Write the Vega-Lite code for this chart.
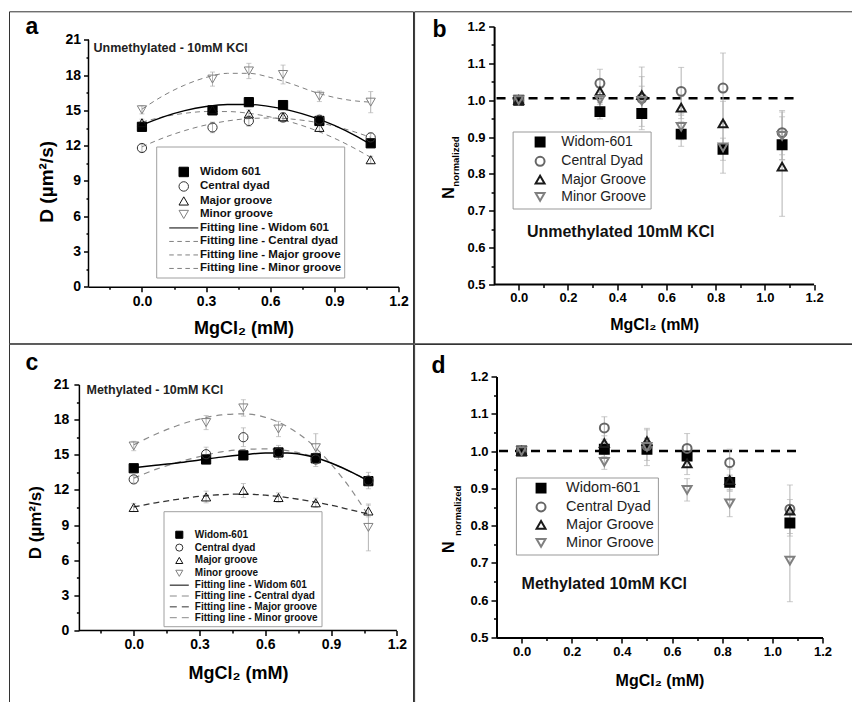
{
  "$schema": "https://vega.github.io/schema/vega-lite/v6.json",
  "background": "white",
  "padding": {"left": 8.5, "top": 10.5, "right": 0, "bottom": 0},
  "config": {
    "view": {"stroke": null},
    "font": "Liberation Sans",
    "axis": {"grid": false, "labelFont": "Liberation Sans", "titleFont": "Liberation Sans", "labelFontWeight": "bold", "titleFontWeight": "bold", "labelColor": "black", "titleColor": "black", "domainColor": "black", "tickColor": "black", "labelOverlap": false, "labelFlush": false, "labelBound": false},
    "legend": {"labelFont": "Liberation Sans", "titleFont": "Liberation Sans", "labelLimit": 400, "symbolOpacity": 1}
  },
  "datasets": {
    "ptsA": [
      {"s": "Widom 601", "x": 0, "y": 13.6, "e": 0.3},
      {"s": "Widom 601", "x": 0.33, "y": 15.0, "e": 0.3},
      {"s": "Widom 601", "x": 0.5, "y": 15.7, "e": 0.35},
      {"s": "Widom 601", "x": 0.66, "y": 15.45, "e": 0.35},
      {"s": "Widom 601", "x": 0.83, "y": 14.1, "e": 0.3},
      {"s": "Widom 601", "x": 1.07, "y": 12.2, "e": 0.3},
      {"s": "Central dyad", "x": 0, "y": 11.8, "e": 0.3},
      {"s": "Central dyad", "x": 0.33, "y": 13.55, "e": 0.45},
      {"s": "Central dyad", "x": 0.5, "y": 14.1, "e": 0.45},
      {"s": "Central dyad", "x": 0.66, "y": 14.4, "e": 0.4},
      {"s": "Central dyad", "x": 0.83, "y": 14.2, "e": 0.4},
      {"s": "Central dyad", "x": 1.07, "y": 12.7, "e": 0.4},
      {"s": "Major groove", "x": 0, "y": 13.95, "e": 0.3},
      {"s": "Major groove", "x": 0.33, "y": 15.05, "e": 0.3},
      {"s": "Major groove", "x": 0.5, "y": 14.7, "e": 0.35},
      {"s": "Major groove", "x": 0.66, "y": 14.45, "e": 0.35},
      {"s": "Major groove", "x": 0.83, "y": 13.55, "e": 0.35},
      {"s": "Major groove", "x": 1.07, "y": 10.8, "e": 0.3},
      {"s": "Minor groove", "x": 0, "y": 15.05, "e": 0.35},
      {"s": "Minor groove", "x": 0.33, "y": 17.66, "e": 0.6},
      {"s": "Minor groove", "x": 0.5, "y": 18.35, "e": 0.65},
      {"s": "Minor groove", "x": 0.66, "y": 18.05, "e": 0.8},
      {"s": "Minor groove", "x": 0.83, "y": 16.2, "e": 0.45},
      {"s": "Minor groove", "x": 1.07, "y": 15.7, "e": 0.9}
    ],
    "fitA": [
      {"s": "Widom 601", "x": 0, "y": 13.75}, {"s": "Widom 601", "x": 0.1, "y": 14.45}, {"s": "Widom 601", "x": 0.2, "y": 14.98}, {"s": "Widom 601", "x": 0.3, "y": 15.33}, {"s": "Widom 601", "x": 0.4, "y": 15.5}, {"s": "Widom 601", "x": 0.5, "y": 15.5}, {"s": "Widom 601", "x": 0.6, "y": 15.32}, {"s": "Widom 601", "x": 0.7, "y": 14.96}, {"s": "Widom 601", "x": 0.8, "y": 14.43}, {"s": "Widom 601", "x": 0.9, "y": 13.72}, {"s": "Widom 601", "x": 1.0, "y": 12.83}, {"s": "Widom 601", "x": 1.07, "y": 12.1},
      {"s": "Central dyad", "x": 0, "y": 11.9}, {"s": "Central dyad", "x": 0.1, "y": 12.66}, {"s": "Central dyad", "x": 0.2, "y": 13.28}, {"s": "Central dyad", "x": 0.3, "y": 13.76}, {"s": "Central dyad", "x": 0.4, "y": 14.1}, {"s": "Central dyad", "x": 0.5, "y": 14.3}, {"s": "Central dyad", "x": 0.6, "y": 14.35}, {"s": "Central dyad", "x": 0.7, "y": 14.26}, {"s": "Central dyad", "x": 0.8, "y": 14.03}, {"s": "Central dyad", "x": 0.9, "y": 13.66}, {"s": "Central dyad", "x": 1.0, "y": 13.14}, {"s": "Central dyad", "x": 1.07, "y": 12.7},
      {"s": "Major groove", "x": 0, "y": 14.0}, {"s": "Major groove", "x": 0.1, "y": 14.45}, {"s": "Major groove", "x": 0.2, "y": 14.75}, {"s": "Major groove", "x": 0.3, "y": 14.9}, {"s": "Major groove", "x": 0.4, "y": 14.9}, {"s": "Major groove", "x": 0.5, "y": 14.75}, {"s": "Major groove", "x": 0.6, "y": 14.44}, {"s": "Major groove", "x": 0.7, "y": 13.99}, {"s": "Major groove", "x": 0.8, "y": 13.39}, {"s": "Major groove", "x": 0.9, "y": 12.63}, {"s": "Major groove", "x": 1.0, "y": 11.72}, {"s": "Major groove", "x": 1.07, "y": 11.0},
      {"s": "Minor groove", "x": 0, "y": 15.1}, {"s": "Minor groove", "x": 0.1, "y": 16.25}, {"s": "Minor groove", "x": 0.2, "y": 17.15}, {"s": "Minor groove", "x": 0.3, "y": 17.8}, {"s": "Minor groove", "x": 0.4, "y": 18.15}, {"s": "Minor groove", "x": 0.5, "y": 18.15}, {"s": "Minor groove", "x": 0.6, "y": 17.8}, {"s": "Minor groove", "x": 0.7, "y": 17.25}, {"s": "Minor groove", "x": 0.8, "y": 16.6}, {"s": "Minor groove", "x": 0.9, "y": 16.1}, {"s": "Minor groove", "x": 1.0, "y": 15.8}, {"s": "Minor groove", "x": 1.07, "y": 15.7}
    ],
    "ptsB": [
      {"s": "Widom-601", "x": 0, "y": 1.0, "e": 0.01},
      {"s": "Widom-601", "x": 0.33, "y": 0.969, "e": 0.02},
      {"s": "Widom-601", "x": 0.5, "y": 0.964, "e": 0.035},
      {"s": "Widom-601", "x": 0.66, "y": 0.908, "e": 0.033},
      {"s": "Widom-601", "x": 0.83, "y": 0.867, "e": 0.03},
      {"s": "Widom-601", "x": 1.07, "y": 0.879, "e": 0.04},
      {"s": "Central Dyad", "x": 0, "y": 1.0, "e": 0.01},
      {"s": "Central Dyad", "x": 0.33, "y": 1.046, "e": 0.038},
      {"s": "Central Dyad", "x": 0.5, "y": 1.005, "e": 0.085},
      {"s": "Central Dyad", "x": 0.66, "y": 1.024, "e": 0.065},
      {"s": "Central Dyad", "x": 0.83, "y": 1.033, "e": 0.095},
      {"s": "Central Dyad", "x": 1.07, "y": 0.912, "e": 0.06},
      {"s": "Major Groove", "x": 0, "y": 1.0, "e": 0.01},
      {"s": "Major Groove", "x": 0.33, "y": 1.024, "e": 0.03},
      {"s": "Major Groove", "x": 0.5, "y": 1.014, "e": 0.05},
      {"s": "Major Groove", "x": 0.66, "y": 0.98, "e": 0.03},
      {"s": "Major Groove", "x": 0.83, "y": 0.937, "e": 0.06},
      {"s": "Major Groove", "x": 1.07, "y": 0.82, "e": 0.135},
      {"s": "Minor Groove", "x": 0, "y": 1.0, "e": 0.01},
      {"s": "Minor Groove", "x": 0.33, "y": 1.001, "e": 0.02},
      {"s": "Minor Groove", "x": 0.5, "y": 0.998, "e": 0.04},
      {"s": "Minor Groove", "x": 0.66, "y": 0.928, "e": 0.035},
      {"s": "Minor Groove", "x": 0.83, "y": 0.872, "e": 0.07},
      {"s": "Minor Groove", "x": 1.07, "y": 0.903, "e": 0.065}
    ],
    "ptsC": [
      {"s": "Widom-601", "x": 0, "y": 13.85, "e": 0.3},
      {"s": "Widom-601", "x": 0.33, "y": 14.6, "e": 0.35},
      {"s": "Widom-601", "x": 0.5, "y": 14.95, "e": 0.35},
      {"s": "Widom-601", "x": 0.66, "y": 15.2, "e": 0.35},
      {"s": "Widom-601", "x": 0.83, "y": 14.7, "e": 0.35},
      {"s": "Widom-601", "x": 1.07, "y": 12.75, "e": 0.4},
      {"s": "Central dyad", "x": 0, "y": 12.9, "e": 0.3},
      {"s": "Central dyad", "x": 0.33, "y": 15.05, "e": 0.6},
      {"s": "Central dyad", "x": 0.5, "y": 16.5, "e": 0.8},
      {"s": "Central dyad", "x": 0.66, "y": 15.2, "e": 0.6},
      {"s": "Central dyad", "x": 0.83, "y": 14.6, "e": 0.6},
      {"s": "Central dyad", "x": 1.07, "y": 12.8, "e": 0.7},
      {"s": "Major groove", "x": 0, "y": 10.5, "e": 0.35},
      {"s": "Major groove", "x": 0.33, "y": 11.4, "e": 0.5},
      {"s": "Major groove", "x": 0.5, "y": 11.95, "e": 0.6},
      {"s": "Major groove", "x": 0.66, "y": 11.35, "e": 0.4},
      {"s": "Major groove", "x": 0.83, "y": 10.9, "e": 0.4},
      {"s": "Major groove", "x": 1.07, "y": 10.2, "e": 0.5},
      {"s": "Minor groove", "x": 0, "y": 15.75, "e": 0.4},
      {"s": "Minor groove", "x": 0.33, "y": 17.75, "e": 0.6},
      {"s": "Minor groove", "x": 0.5, "y": 19.0, "e": 0.7},
      {"s": "Minor groove", "x": 0.66, "y": 17.2, "e": 0.65},
      {"s": "Minor groove", "x": 0.83, "y": 15.6, "e": 1.2},
      {"s": "Minor groove", "x": 1.07, "y": 8.8, "e": 2.0}
    ],
    "fitC": [
      {"s": "Widom 601", "x": 0, "y": 13.9}, {"s": "Widom 601", "x": 0.1, "y": 14.1}, {"s": "Widom 601", "x": 0.2, "y": 14.3}, {"s": "Widom 601", "x": 0.3, "y": 14.55}, {"s": "Widom 601", "x": 0.4, "y": 14.8}, {"s": "Widom 601", "x": 0.5, "y": 15.0}, {"s": "Widom 601", "x": 0.6, "y": 15.15}, {"s": "Widom 601", "x": 0.7, "y": 15.15}, {"s": "Widom 601", "x": 0.8, "y": 14.9}, {"s": "Widom 601", "x": 0.9, "y": 14.3}, {"s": "Widom 601", "x": 1.0, "y": 13.45}, {"s": "Widom 601", "x": 1.07, "y": 12.75},
      {"s": "Central dyad", "x": 0, "y": 13.0}, {"s": "Central dyad", "x": 0.1, "y": 13.75}, {"s": "Central dyad", "x": 0.2, "y": 14.35}, {"s": "Central dyad", "x": 0.3, "y": 14.85}, {"s": "Central dyad", "x": 0.4, "y": 15.25}, {"s": "Central dyad", "x": 0.5, "y": 15.45}, {"s": "Central dyad", "x": 0.6, "y": 15.5}, {"s": "Central dyad", "x": 0.7, "y": 15.35}, {"s": "Central dyad", "x": 0.8, "y": 14.95}, {"s": "Central dyad", "x": 0.9, "y": 14.3}, {"s": "Central dyad", "x": 1.0, "y": 13.45}, {"s": "Central dyad", "x": 1.07, "y": 12.8},
      {"s": "Major groove", "x": 0, "y": 10.55}, {"s": "Major groove", "x": 0.1, "y": 10.9}, {"s": "Major groove", "x": 0.2, "y": 11.2}, {"s": "Major groove", "x": 0.3, "y": 11.45}, {"s": "Major groove", "x": 0.4, "y": 11.6}, {"s": "Major groove", "x": 0.5, "y": 11.65}, {"s": "Major groove", "x": 0.6, "y": 11.55}, {"s": "Major groove", "x": 0.7, "y": 11.35}, {"s": "Major groove", "x": 0.8, "y": 11.05}, {"s": "Major groove", "x": 0.9, "y": 10.7}, {"s": "Major groove", "x": 1.0, "y": 10.25}, {"s": "Major groove", "x": 1.07, "y": 9.95},
      {"s": "Minor groove", "x": 0, "y": 15.85}, {"s": "Minor groove", "x": 0.1, "y": 16.75}, {"s": "Minor groove", "x": 0.2, "y": 17.5}, {"s": "Minor groove", "x": 0.3, "y": 18.05}, {"s": "Minor groove", "x": 0.4, "y": 18.4}, {"s": "Minor groove", "x": 0.5, "y": 18.5}, {"s": "Minor groove", "x": 0.6, "y": 18.2}, {"s": "Minor groove", "x": 0.7, "y": 17.4}, {"s": "Minor groove", "x": 0.8, "y": 16.1}, {"s": "Minor groove", "x": 0.9, "y": 14.2}, {"s": "Minor groove", "x": 1.0, "y": 11.8}, {"s": "Minor groove", "x": 1.07, "y": 9.8}
    ],
    "ptsD": [
      {"s": "Widom-601", "x": 0, "y": 1.0, "e": 0.01},
      {"s": "Widom-601", "x": 0.33, "y": 1.005, "e": 0.02},
      {"s": "Widom-601", "x": 0.5, "y": 1.005, "e": 0.03},
      {"s": "Widom-601", "x": 0.66, "y": 0.987, "e": 0.03},
      {"s": "Widom-601", "x": 0.83, "y": 0.916, "e": 0.02},
      {"s": "Widom-601", "x": 1.07, "y": 0.807, "e": 0.035},
      {"s": "Central Dyad", "x": 0, "y": 1.0, "e": 0.01},
      {"s": "Central Dyad", "x": 0.33, "y": 1.062, "e": 0.03},
      {"s": "Central Dyad", "x": 0.5, "y": 1.014, "e": 0.02},
      {"s": "Central Dyad", "x": 0.66, "y": 1.007, "e": 0.04},
      {"s": "Central Dyad", "x": 0.83, "y": 0.969, "e": 0.036},
      {"s": "Central Dyad", "x": 1.07, "y": 0.844, "e": 0.065},
      {"s": "Major Groove", "x": 0, "y": 1.0, "e": 0.01},
      {"s": "Major Groove", "x": 0.33, "y": 1.021, "e": 0.02},
      {"s": "Major Groove", "x": 0.5, "y": 1.027, "e": 0.03},
      {"s": "Major Groove", "x": 0.66, "y": 0.967, "e": 0.03},
      {"s": "Major Groove", "x": 0.83, "y": 0.922, "e": 0.03},
      {"s": "Major Groove", "x": 1.07, "y": 0.84, "e": 0.03},
      {"s": "Minor Groove", "x": 0, "y": 1.0, "e": 0.01},
      {"s": "Minor Groove", "x": 0.33, "y": 0.971, "e": 0.02},
      {"s": "Minor Groove", "x": 0.5, "y": 1.011, "e": 0.05},
      {"s": "Minor Groove", "x": 0.66, "y": 0.896, "e": 0.03},
      {"s": "Minor Groove", "x": 0.83, "y": 0.86, "e": 0.036},
      {"s": "Minor Groove", "x": 1.07, "y": 0.706, "e": 0.11}
    ]
  },
  "spacing": -1,
  "resolve": {
    "scale": {"x": "independent", "y": "independent", "shape": "independent", "fill": "independent", "stroke": "independent"},
    "legend": {"shape": "independent", "fill": "independent", "stroke": "independent"}
  },
  "hconcat": [
    {
      "spacing": -1,
      "resolve": {
        "scale": {"x": "independent", "y": "independent", "shape": "independent", "fill": "independent", "stroke": "independent"},
        "legend": {"shape": "independent", "fill": "independent", "stroke": "independent"}
      },
      "vconcat": [
        {
          "width": 310, "height": 260.3,
          "layer": [
            {"data": {"values": [{}]}, "mark": {"type": "rect", "filled": false, "stroke": "#333333", "strokeWidth": 1},
              "encoding": {
                "x": {"datum": -0.6195, "type": "quantitative", "scale": {"domain": [-0.25, 1.2], "nice": false, "zero": false}, "axis": {"title": "MgCl₂ (mM)", "values": [-0.15, 0, 0.15, 0.3, 0.45, 0.6, 0.75, 0.9, 1.05, 1.2], "labelExpr": "round(datum.value*100) % 30 == 0 ? format(datum.value, '.1f') : ''", "tickSize": {"condition": {"test": "round(datum.value*100) % 30 != 0", "value": 2.5}, "value": 5}, "labelFontSize": 14, "labelPadding": 3, "domainWidth": 1.5, "tickWidth": 1.5, "titleFontSize": 18, "titleX": 155, "titleY": 47, "titleAlign": "center", "titleBaseline": "alphabetic"}},
                "x2": {"datum": 1.2702},
                "y": {"datum": 23.381, "type": "quantitative", "scale": {"domain": [0, 22.131], "nice": false, "zero": false}, "axis": {"title": "D (µm²/s)", "domain": false, "values": [0, 1.5, 3, 4.5, 6, 7.5, 9, 10.5, 12, 13.5, 15, 16.5, 18, 19.5, 21], "labelExpr": "datum.value % 3 == 0 ? format(datum.value, 'd') : ''", "tickSize": {"condition": {"test": "datum.value % 3 != 0", "value": 2.5}, "value": 5}, "labelFontSize": 14, "labelPadding": 3, "tickWidth": 1.5, "titleFontSize": 19, "titleX": -42.2, "titleY": 154.8, "titleAngle": 270, "titleAlign": "center", "titleBaseline": "middle"}},
                "y2": {"datum": -4.846}}},
            {"data": {"values": [{}]}, "mark": {"type": "rule", "color": "black", "strokeWidth": 1.5},
              "encoding": {
                "x": {"datum": -0.25, "type": "quantitative", "scale": {"domain": [-0.25, 1.2], "nice": false, "zero": false}, "axis": {"title": "MgCl₂ (mM)", "values": [-0.15, 0, 0.15, 0.3, 0.45, 0.6, 0.75, 0.9, 1.05, 1.2], "labelExpr": "round(datum.value*100) % 30 == 0 ? format(datum.value, '.1f') : ''", "tickSize": {"condition": {"test": "round(datum.value*100) % 30 != 0", "value": 2.5}, "value": 5}, "labelFontSize": 14, "labelPadding": 3, "domainWidth": 1.5, "tickWidth": 1.5, "titleFontSize": 18, "titleX": 155, "titleY": 47, "titleAlign": "center", "titleBaseline": "alphabetic"}},
                "y": {"datum": 0, "type": "quantitative", "scale": {"domain": [0, 22.131], "nice": false, "zero": false}, "axis": {"title": "D (µm²/s)", "domain": false, "values": [0, 1.5, 3, 4.5, 6, 7.5, 9, 10.5, 12, 13.5, 15, 16.5, 18, 19.5, 21], "labelExpr": "datum.value % 3 == 0 ? format(datum.value, 'd') : ''", "tickSize": {"condition": {"test": "datum.value % 3 != 0", "value": 2.5}, "value": 5}, "labelFontSize": 14, "labelPadding": 3, "tickWidth": 1.5, "titleFontSize": 19, "titleX": -42.2, "titleY": 154.8, "titleAngle": 270, "titleAlign": "center", "titleBaseline": "middle"}},
                "y2": {"datum": 21}}},
            {"data": {"name": "ptsA"}, "mark": {"type": "errorbar", "ticks": {"size": 5}, "color": "#b3b3b3"},
              "encoding": {
                "x": {"field": "x", "type": "quantitative", "scale": {"domain": [-0.25, 1.2], "nice": false, "zero": false}, "axis": {"title": "MgCl₂ (mM)", "values": [-0.15, 0, 0.15, 0.3, 0.45, 0.6, 0.75, 0.9, 1.05, 1.2], "labelExpr": "round(datum.value*100) % 30 == 0 ? format(datum.value, '.1f') : ''", "tickSize": {"condition": {"test": "round(datum.value*100) % 30 != 0", "value": 2.5}, "value": 5}, "labelFontSize": 14, "labelPadding": 3, "domainWidth": 1.5, "tickWidth": 1.5, "titleFontSize": 18, "titleX": 155, "titleY": 47, "titleAlign": "center", "titleBaseline": "alphabetic"}},
                "y": {"field": "y", "type": "quantitative", "scale": {"domain": [0, 22.131], "nice": false, "zero": false}, "axis": {"title": "D (µm²/s)", "domain": false, "values": [0, 1.5, 3, 4.5, 6, 7.5, 9, 10.5, 12, 13.5, 15, 16.5, 18, 19.5, 21], "labelExpr": "datum.value % 3 == 0 ? format(datum.value, 'd') : ''", "tickSize": {"condition": {"test": "datum.value % 3 != 0", "value": 2.5}, "value": 5}, "labelFontSize": 14, "labelPadding": 3, "tickWidth": 1.5, "titleFontSize": 19, "titleX": -42.2, "titleY": 154.8, "titleAngle": 270, "titleAlign": "center", "titleBaseline": "middle"}},
                "yError": {"field": "e"}}},
            {"data": {"name": "fitA"}, "transform": [{"filter": "datum.s != 'Widom 601'"}], "mark": {"type": "line", "stroke": "#808080", "strokeWidth": 1, "strokeDash": [5, 4], "interpolate": "monotone"},
              "encoding": {
                "x": {"field": "x", "type": "quantitative", "scale": {"domain": [-0.25, 1.2], "nice": false, "zero": false}, "axis": {"title": "MgCl₂ (mM)", "values": [-0.15, 0, 0.15, 0.3, 0.45, 0.6, 0.75, 0.9, 1.05, 1.2], "labelExpr": "round(datum.value*100) % 30 == 0 ? format(datum.value, '.1f') : ''", "tickSize": {"condition": {"test": "round(datum.value*100) % 30 != 0", "value": 2.5}, "value": 5}, "labelFontSize": 14, "labelPadding": 3, "domainWidth": 1.5, "tickWidth": 1.5, "titleFontSize": 18, "titleX": 155, "titleY": 47, "titleAlign": "center", "titleBaseline": "alphabetic"}},
                "y": {"field": "y", "type": "quantitative", "scale": {"domain": [0, 22.131], "nice": false, "zero": false}, "axis": {"title": "D (µm²/s)", "domain": false, "values": [0, 1.5, 3, 4.5, 6, 7.5, 9, 10.5, 12, 13.5, 15, 16.5, 18, 19.5, 21], "labelExpr": "datum.value % 3 == 0 ? format(datum.value, 'd') : ''", "tickSize": {"condition": {"test": "datum.value % 3 != 0", "value": 2.5}, "value": 5}, "labelFontSize": 14, "labelPadding": 3, "tickWidth": 1.5, "titleFontSize": 19, "titleX": -42.2, "titleY": 154.8, "titleAngle": 270, "titleAlign": "center", "titleBaseline": "middle"}},
                "detail": {"field": "s"}}},
            {"data": {"name": "fitA"}, "transform": [{"filter": "datum.s == 'Widom 601'"}], "mark": {"type": "line", "stroke": "black", "strokeWidth": 1.3, "interpolate": "monotone"},
              "encoding": {
                "x": {"field": "x", "type": "quantitative", "scale": {"domain": [-0.25, 1.2], "nice": false, "zero": false}, "axis": {"title": "MgCl₂ (mM)", "values": [-0.15, 0, 0.15, 0.3, 0.45, 0.6, 0.75, 0.9, 1.05, 1.2], "labelExpr": "round(datum.value*100) % 30 == 0 ? format(datum.value, '.1f') : ''", "tickSize": {"condition": {"test": "round(datum.value*100) % 30 != 0", "value": 2.5}, "value": 5}, "labelFontSize": 14, "labelPadding": 3, "domainWidth": 1.5, "tickWidth": 1.5, "titleFontSize": 18, "titleX": 155, "titleY": 47, "titleAlign": "center", "titleBaseline": "alphabetic"}},
                "y": {"field": "y", "type": "quantitative", "scale": {"domain": [0, 22.131], "nice": false, "zero": false}, "axis": {"title": "D (µm²/s)", "domain": false, "values": [0, 1.5, 3, 4.5, 6, 7.5, 9, 10.5, 12, 13.5, 15, 16.5, 18, 19.5, 21], "labelExpr": "datum.value % 3 == 0 ? format(datum.value, 'd') : ''", "tickSize": {"condition": {"test": "datum.value % 3 != 0", "value": 2.5}, "value": 5}, "labelFontSize": 14, "labelPadding": 3, "tickWidth": 1.5, "titleFontSize": 19, "titleX": -42.2, "titleY": 154.8, "titleAngle": 270, "titleAlign": "center", "titleBaseline": "middle"}},
                "detail": {"field": "s"}}},
            {"data": {"name": "ptsA"}, "mark": {"type": "point", "size": 85, "strokeWidth": 1, "opacity": 1},
              "encoding": {
                "x": {"field": "x", "type": "quantitative", "scale": {"domain": [-0.25, 1.2], "nice": false, "zero": false}, "axis": {"title": "MgCl₂ (mM)", "values": [-0.15, 0, 0.15, 0.3, 0.45, 0.6, 0.75, 0.9, 1.05, 1.2], "labelExpr": "round(datum.value*100) % 30 == 0 ? format(datum.value, '.1f') : ''", "tickSize": {"condition": {"test": "round(datum.value*100) % 30 != 0", "value": 2.5}, "value": 5}, "labelFontSize": 14, "labelPadding": 3, "domainWidth": 1.5, "tickWidth": 1.5, "titleFontSize": 18, "titleX": 155, "titleY": 47, "titleAlign": "center", "titleBaseline": "alphabetic"}},
                "y": {"field": "y", "type": "quantitative", "scale": {"domain": [0, 22.131], "nice": false, "zero": false}, "axis": {"title": "D (µm²/s)", "domain": false, "values": [0, 1.5, 3, 4.5, 6, 7.5, 9, 10.5, 12, 13.5, 15, 16.5, 18, 19.5, 21], "labelExpr": "datum.value % 3 == 0 ? format(datum.value, 'd') : ''", "tickSize": {"condition": {"test": "datum.value % 3 != 0", "value": 2.5}, "value": 5}, "labelFontSize": 14, "labelPadding": 3, "tickWidth": 1.5, "titleFontSize": 19, "titleX": -42.2, "titleY": 154.8, "titleAngle": 270, "titleAlign": "center", "titleBaseline": "middle"}},
                "shape": {"field": "s", "type": "nominal", "scale": {"domain": ["Widom 601", "Central dyad", "Major groove", "Minor groove", "Fitting line - Widom 601", "Fitting line - Central dyad", "Fitting line - Major groove", "Fitting line - Minor groove"], "range": ["square", "circle", "triangle-up", "triangle-down", "M-3.06,0H3.06", "M-3.06,0H-2.1M-1.36,0H-0.4M0.34,0H1.3M2.04,0H3.0", "M-3.06,0H-2.1M-1.36,0H-0.4M0.34,0H1.3M2.04,0H3.0", "M-3.06,0H-2.1M-1.36,0H-0.4M0.34,0H1.3M2.04,0H3.0"]},
                  "legend": {"orient": "none", "legendX": 67.7, "legendY": 120, "title": " ", "titleFontSize": 12, "titlePadding": 4.7, "padding": 3, "strokeColor": "#a0a0a0", "fillColor": "white", "symbolSize": 90, "symbolStrokeWidth": 1, "symbolOffset": 18.8, "labelOffset": 10.5, "labelFontWeight": "bold", "labelFontSize": 11.5, "labelColor": "#111111", "rowPadding": 0.5}},
                "fill": {"field": "s", "type": "nominal", "scale": {"domain": ["Widom 601", "Central dyad", "Major groove", "Minor groove", "Fitting line - Widom 601", "Fitting line - Central dyad", "Fitting line - Major groove", "Fitting line - Minor groove"], "range": ["black", "transparent", "transparent", "transparent", "transparent", "transparent", "transparent", "transparent"]},
                  "legend": {"orient": "none", "legendX": 67.7, "legendY": 120, "title": " ", "titleFontSize": 12, "titlePadding": 4.7, "padding": 3, "strokeColor": "#a0a0a0", "fillColor": "white", "symbolSize": 90, "symbolStrokeWidth": 1, "symbolOffset": 18.8, "labelOffset": 10.5, "labelFontWeight": "bold", "labelFontSize": 11.5, "labelColor": "#111111", "rowPadding": 0.5}},
                "stroke": {"field": "s", "type": "nominal", "scale": {"domain": ["Widom 601", "Central dyad", "Major groove", "Minor groove", "Fitting line - Widom 601", "Fitting line - Central dyad", "Fitting line - Major groove", "Fitting line - Minor groove"], "range": ["black", "#333333", "#111111", "#808080", "black", "#808080", "#808080", "#808080"]},
                  "legend": {"orient": "none", "legendX": 67.7, "legendY": 120, "title": " ", "titleFontSize": 12, "titlePadding": 4.7, "padding": 3, "strokeColor": "#a0a0a0", "fillColor": "white", "symbolSize": 90, "symbolStrokeWidth": 1, "symbolOffset": 18.8, "labelOffset": 10.5, "labelFontWeight": "bold", "labelFontSize": 11.5, "labelColor": "#111111", "rowPadding": 0.5}}
              }},
            {"data": {"values": [{}]}, "mark": {"type": "text", "text": "Unmethylated - 10mM KCl", "align": "left", "baseline": "middle", "fontWeight": "bold", "fontSize": 12.5, "color": "#222222"},
              "encoding": {
                "x": {"datum": -0.2266, "type": "quantitative", "scale": {"domain": [-0.25, 1.2], "nice": false, "zero": false}, "axis": {"title": "MgCl₂ (mM)", "values": [-0.15, 0, 0.15, 0.3, 0.45, 0.6, 0.75, 0.9, 1.05, 1.2], "labelExpr": "round(datum.value*100) % 30 == 0 ? format(datum.value, '.1f') : ''", "tickSize": {"condition": {"test": "round(datum.value*100) % 30 != 0", "value": 2.5}, "value": 5}, "labelFontSize": 14, "labelPadding": 3, "domainWidth": 1.5, "tickWidth": 1.5, "titleFontSize": 18, "titleX": 155, "titleY": 47, "titleAlign": "center", "titleBaseline": "alphabetic"}},
                "y": {"datum": 20.345, "type": "quantitative", "scale": {"domain": [0, 22.131], "nice": false, "zero": false}, "axis": {"title": "D (µm²/s)", "domain": false, "values": [0, 1.5, 3, 4.5, 6, 7.5, 9, 10.5, 12, 13.5, 15, 16.5, 18, 19.5, 21], "labelExpr": "datum.value % 3 == 0 ? format(datum.value, 'd') : ''", "tickSize": {"condition": {"test": "datum.value % 3 != 0", "value": 2.5}, "value": 5}, "labelFontSize": 14, "labelPadding": 3, "tickWidth": 1.5, "titleFontSize": 19, "titleX": -42.2, "titleY": 154.8, "titleAngle": 270, "titleAlign": "center", "titleBaseline": "middle"}}}},
            {"data": {"values": [{}]}, "mark": {"type": "text", "text": "a", "align": "left", "baseline": "alphabetic", "fontWeight": "bold", "fontSize": 23, "color": "black"},
              "encoding": {
                "x": {"datum": -0.5447, "type": "quantitative", "scale": {"domain": [-0.25, 1.2], "nice": false, "zero": false}, "axis": {"title": "MgCl₂ (mM)", "values": [-0.15, 0, 0.15, 0.3, 0.45, 0.6, 0.75, 0.9, 1.05, 1.2], "labelExpr": "round(datum.value*100) % 30 == 0 ? format(datum.value, '.1f') : ''", "tickSize": {"condition": {"test": "round(datum.value*100) % 30 != 0", "value": 2.5}, "value": 5}, "labelFontSize": 14, "labelPadding": 3, "domainWidth": 1.5, "tickWidth": 1.5, "titleFontSize": 18, "titleX": 155, "titleY": 47, "titleAlign": "center", "titleBaseline": "alphabetic"}},
                "y": {"datum": 21.485, "type": "quantitative", "scale": {"domain": [0, 22.131], "nice": false, "zero": false}, "axis": {"title": "D (µm²/s)", "domain": false, "values": [0, 1.5, 3, 4.5, 6, 7.5, 9, 10.5, 12, 13.5, 15, 16.5, 18, 19.5, 21], "labelExpr": "datum.value % 3 == 0 ? format(datum.value, 'd') : ''", "tickSize": {"condition": {"test": "datum.value % 3 != 0", "value": 2.5}, "value": 5}, "labelFontSize": 14, "labelPadding": 3, "tickWidth": 1.5, "titleFontSize": 19, "titleX": -42.2, "titleY": 154.8, "titleAngle": 270, "titleAlign": "center", "titleBaseline": "middle"}}}}
          ]
        },
        {
          "width": 308.4, "height": 246,
          "layer": [
            {"data": {"values": [{}]}, "mark": {"type": "rect", "filled": false, "stroke": "#333333", "strokeWidth": 1},
              "encoding": {
                "x": {"datum": -0.5664, "type": "quantitative", "scale": {"domain": [-0.2062, 1.2], "nice": false, "zero": false}, "axis": {"title": "MgCl₂ (mM)", "domain": false, "values": [-0.15, 0, 0.15, 0.3, 0.45, 0.6, 0.75, 0.9, 1.05, 1.2], "labelExpr": "round(datum.value*100) % 30 == 0 ? format(datum.value, '.1f') : ''", "tickSize": {"condition": {"test": "round(datum.value*100) % 30 != 0", "value": 2.5}, "value": 5}, "labelFontSize": 14, "labelPadding": 2.3, "tickWidth": 1.5, "titleFontSize": 18, "titleX": 149.4, "titleY": 48, "titleAlign": "center", "titleBaseline": "alphabetic"}},
                "x2": {"datum": 1.2757},
                "y": {"datum": 24.44, "type": "quantitative", "scale": {"domain": [0, 21], "nice": false, "zero": false}, "axis": {"title": "D (µm²/s)", "offset": 9.6, "values": [0, 1.5, 3, 4.5, 6, 7.5, 9, 10.5, 12, 13.5, 15, 16.5, 18, 19.5, 21], "labelExpr": "datum.value % 3 == 0 ? format(datum.value, 'd') : ''", "tickSize": {"condition": {"test": "datum.value % 3 != 0", "value": 2.5}, "value": 5}, "labelFontSize": 14, "labelPadding": 5, "domainWidth": 1.5, "tickWidth": 1.5, "titleFontSize": 17, "titleX": -43.4, "titleY": 137.7, "titleAngle": 270, "titleAlign": "center", "titleBaseline": "middle"}},
                "y2": {"datum": -6.292}}},
            {"data": {"values": [{}]}, "mark": {"type": "rule", "color": "black", "strokeWidth": 1.5},
              "encoding": {
                "x": {"datum": -0.25, "type": "quantitative", "scale": {"domain": [-0.2062, 1.2], "nice": false, "zero": false}, "axis": {"title": "MgCl₂ (mM)", "domain": false, "values": [-0.15, 0, 0.15, 0.3, 0.45, 0.6, 0.75, 0.9, 1.05, 1.2], "labelExpr": "round(datum.value*100) % 30 == 0 ? format(datum.value, '.1f') : ''", "tickSize": {"condition": {"test": "round(datum.value*100) % 30 != 0", "value": 2.5}, "value": 5}, "labelFontSize": 14, "labelPadding": 2.3, "tickWidth": 1.5, "titleFontSize": 18, "titleX": 149.4, "titleY": 48, "titleAlign": "center", "titleBaseline": "alphabetic"}},
                "x2": {"datum": 1.2},
                "y": {"datum": 0, "type": "quantitative", "scale": {"domain": [0, 21], "nice": false, "zero": false}, "axis": {"title": "D (µm²/s)", "offset": 9.6, "values": [0, 1.5, 3, 4.5, 6, 7.5, 9, 10.5, 12, 13.5, 15, 16.5, 18, 19.5, 21], "labelExpr": "datum.value % 3 == 0 ? format(datum.value, 'd') : ''", "tickSize": {"condition": {"test": "datum.value % 3 != 0", "value": 2.5}, "value": 5}, "labelFontSize": 14, "labelPadding": 5, "domainWidth": 1.5, "tickWidth": 1.5, "titleFontSize": 17, "titleX": -43.4, "titleY": 137.7, "titleAngle": 270, "titleAlign": "center", "titleBaseline": "middle"}}}},
            {"data": {"name": "ptsC"}, "mark": {"type": "errorbar", "ticks": {"size": 5}, "color": "#b3b3b3"},
              "encoding": {
                "x": {"field": "x", "type": "quantitative", "scale": {"domain": [-0.2062, 1.2], "nice": false, "zero": false}, "axis": {"title": "MgCl₂ (mM)", "domain": false, "values": [-0.15, 0, 0.15, 0.3, 0.45, 0.6, 0.75, 0.9, 1.05, 1.2], "labelExpr": "round(datum.value*100) % 30 == 0 ? format(datum.value, '.1f') : ''", "tickSize": {"condition": {"test": "round(datum.value*100) % 30 != 0", "value": 2.5}, "value": 5}, "labelFontSize": 14, "labelPadding": 2.3, "tickWidth": 1.5, "titleFontSize": 18, "titleX": 149.4, "titleY": 48, "titleAlign": "center", "titleBaseline": "alphabetic"}},
                "y": {"field": "y", "type": "quantitative", "scale": {"domain": [0, 21], "nice": false, "zero": false}, "axis": {"title": "D (µm²/s)", "offset": 9.6, "values": [0, 1.5, 3, 4.5, 6, 7.5, 9, 10.5, 12, 13.5, 15, 16.5, 18, 19.5, 21], "labelExpr": "datum.value % 3 == 0 ? format(datum.value, 'd') : ''", "tickSize": {"condition": {"test": "datum.value % 3 != 0", "value": 2.5}, "value": 5}, "labelFontSize": 14, "labelPadding": 5, "domainWidth": 1.5, "tickWidth": 1.5, "titleFontSize": 17, "titleX": -43.4, "titleY": 137.7, "titleAngle": 270, "titleAlign": "center", "titleBaseline": "middle"}},
                "yError": {"field": "e"}}},
            {"data": {"name": "fitC"}, "transform": [{"filter": "datum.s == 'Central dyad' || datum.s == 'Minor groove'"}], "mark": {"type": "line", "stroke": "#8a8a8a", "strokeWidth": 1.2, "strokeDash": [6, 5], "interpolate": "monotone"},
              "encoding": {
                "x": {"field": "x", "type": "quantitative", "scale": {"domain": [-0.2062, 1.2], "nice": false, "zero": false}, "axis": {"title": "MgCl₂ (mM)", "domain": false, "values": [-0.15, 0, 0.15, 0.3, 0.45, 0.6, 0.75, 0.9, 1.05, 1.2], "labelExpr": "round(datum.value*100) % 30 == 0 ? format(datum.value, '.1f') : ''", "tickSize": {"condition": {"test": "round(datum.value*100) % 30 != 0", "value": 2.5}, "value": 5}, "labelFontSize": 14, "labelPadding": 2.3, "tickWidth": 1.5, "titleFontSize": 18, "titleX": 149.4, "titleY": 48, "titleAlign": "center", "titleBaseline": "alphabetic"}},
                "y": {"field": "y", "type": "quantitative", "scale": {"domain": [0, 21], "nice": false, "zero": false}, "axis": {"title": "D (µm²/s)", "offset": 9.6, "values": [0, 1.5, 3, 4.5, 6, 7.5, 9, 10.5, 12, 13.5, 15, 16.5, 18, 19.5, 21], "labelExpr": "datum.value % 3 == 0 ? format(datum.value, 'd') : ''", "tickSize": {"condition": {"test": "datum.value % 3 != 0", "value": 2.5}, "value": 5}, "labelFontSize": 14, "labelPadding": 5, "domainWidth": 1.5, "tickWidth": 1.5, "titleFontSize": 17, "titleX": -43.4, "titleY": 137.7, "titleAngle": 270, "titleAlign": "center", "titleBaseline": "middle"}},
                "detail": {"field": "s"}}},
            {"data": {"name": "fitC"}, "transform": [{"filter": "datum.s == 'Major groove'"}], "mark": {"type": "line", "stroke": "#333333", "strokeWidth": 1.3, "strokeDash": [6, 4], "interpolate": "monotone"},
              "encoding": {
                "x": {"field": "x", "type": "quantitative", "scale": {"domain": [-0.2062, 1.2], "nice": false, "zero": false}, "axis": {"title": "MgCl₂ (mM)", "domain": false, "values": [-0.15, 0, 0.15, 0.3, 0.45, 0.6, 0.75, 0.9, 1.05, 1.2], "labelExpr": "round(datum.value*100) % 30 == 0 ? format(datum.value, '.1f') : ''", "tickSize": {"condition": {"test": "round(datum.value*100) % 30 != 0", "value": 2.5}, "value": 5}, "labelFontSize": 14, "labelPadding": 2.3, "tickWidth": 1.5, "titleFontSize": 18, "titleX": 149.4, "titleY": 48, "titleAlign": "center", "titleBaseline": "alphabetic"}},
                "y": {"field": "y", "type": "quantitative", "scale": {"domain": [0, 21], "nice": false, "zero": false}, "axis": {"title": "D (µm²/s)", "offset": 9.6, "values": [0, 1.5, 3, 4.5, 6, 7.5, 9, 10.5, 12, 13.5, 15, 16.5, 18, 19.5, 21], "labelExpr": "datum.value % 3 == 0 ? format(datum.value, 'd') : ''", "tickSize": {"condition": {"test": "datum.value % 3 != 0", "value": 2.5}, "value": 5}, "labelFontSize": 14, "labelPadding": 5, "domainWidth": 1.5, "tickWidth": 1.5, "titleFontSize": 17, "titleX": -43.4, "titleY": 137.7, "titleAngle": 270, "titleAlign": "center", "titleBaseline": "middle"}},
                "detail": {"field": "s"}}},
            {"data": {"name": "fitC"}, "transform": [{"filter": "datum.s == 'Widom 601'"}], "mark": {"type": "line", "stroke": "black", "strokeWidth": 1.5, "interpolate": "monotone"},
              "encoding": {
                "x": {"field": "x", "type": "quantitative", "scale": {"domain": [-0.2062, 1.2], "nice": false, "zero": false}, "axis": {"title": "MgCl₂ (mM)", "domain": false, "values": [-0.15, 0, 0.15, 0.3, 0.45, 0.6, 0.75, 0.9, 1.05, 1.2], "labelExpr": "round(datum.value*100) % 30 == 0 ? format(datum.value, '.1f') : ''", "tickSize": {"condition": {"test": "round(datum.value*100) % 30 != 0", "value": 2.5}, "value": 5}, "labelFontSize": 14, "labelPadding": 2.3, "tickWidth": 1.5, "titleFontSize": 18, "titleX": 149.4, "titleY": 48, "titleAlign": "center", "titleBaseline": "alphabetic"}},
                "y": {"field": "y", "type": "quantitative", "scale": {"domain": [0, 21], "nice": false, "zero": false}, "axis": {"title": "D (µm²/s)", "offset": 9.6, "values": [0, 1.5, 3, 4.5, 6, 7.5, 9, 10.5, 12, 13.5, 15, 16.5, 18, 19.5, 21], "labelExpr": "datum.value % 3 == 0 ? format(datum.value, 'd') : ''", "tickSize": {"condition": {"test": "datum.value % 3 != 0", "value": 2.5}, "value": 5}, "labelFontSize": 14, "labelPadding": 5, "domainWidth": 1.5, "tickWidth": 1.5, "titleFontSize": 17, "titleX": -43.4, "titleY": 137.7, "titleAngle": 270, "titleAlign": "center", "titleBaseline": "middle"}},
                "detail": {"field": "s"}}},
            {"data": {"name": "ptsC"}, "mark": {"type": "point", "size": 85, "strokeWidth": 1, "opacity": 1},
              "encoding": {
                "x": {"field": "x", "type": "quantitative", "scale": {"domain": [-0.2062, 1.2], "nice": false, "zero": false}, "axis": {"title": "MgCl₂ (mM)", "domain": false, "values": [-0.15, 0, 0.15, 0.3, 0.45, 0.6, 0.75, 0.9, 1.05, 1.2], "labelExpr": "round(datum.value*100) % 30 == 0 ? format(datum.value, '.1f') : ''", "tickSize": {"condition": {"test": "round(datum.value*100) % 30 != 0", "value": 2.5}, "value": 5}, "labelFontSize": 14, "labelPadding": 2.3, "tickWidth": 1.5, "titleFontSize": 18, "titleX": 149.4, "titleY": 48, "titleAlign": "center", "titleBaseline": "alphabetic"}},
                "y": {"field": "y", "type": "quantitative", "scale": {"domain": [0, 21], "nice": false, "zero": false}, "axis": {"title": "D (µm²/s)", "offset": 9.6, "values": [0, 1.5, 3, 4.5, 6, 7.5, 9, 10.5, 12, 13.5, 15, 16.5, 18, 19.5, 21], "labelExpr": "datum.value % 3 == 0 ? format(datum.value, 'd') : ''", "tickSize": {"condition": {"test": "datum.value % 3 != 0", "value": 2.5}, "value": 5}, "labelFontSize": 14, "labelPadding": 5, "domainWidth": 1.5, "tickWidth": 1.5, "titleFontSize": 17, "titleX": -43.4, "titleY": 137.7, "titleAngle": 270, "titleAlign": "center", "titleBaseline": "middle"}},
                "shape": {"field": "s", "type": "nominal", "scale": {"domain": ["Widom-601", "Central dyad", "Major groove", "Minor groove", "Fitting line - Widom 601", "Fitting line - Central dyad", "Fitting line - Major groove", "Fitting line - Minor groove"], "range": ["square", "circle", "triangle-up", "triangle-down", "M-2.687,0H2.687", "M-2.687,0H-0.707M0.707,0H2.687", "M-2.687,0H-0.707M0.707,0H2.687", "M-2.687,0H-0.707M0.707,0H2.687"]},
                  "legend": {"orient": "none", "legendX": 75, "legendY": 126.7, "title": " ", "titleFontSize": 10, "titlePadding": 5.55, "padding": 3, "strokeColor": "#a0a0a0", "fillColor": "white", "symbolSize": 50, "symbolStrokeWidth": 1, "symbolOffset": 7.8, "labelOffset": 10.5, "labelFontWeight": "bold", "labelFontSize": 10, "labelColor": "#111111", "rowPadding": 0.85}},
                "fill": {"field": "s", "type": "nominal", "scale": {"domain": ["Widom-601", "Central dyad", "Major groove", "Minor groove", "Fitting line - Widom 601", "Fitting line - Central dyad", "Fitting line - Major groove", "Fitting line - Minor groove"], "range": ["black", "transparent", "transparent", "transparent", "transparent", "transparent", "transparent", "transparent"]},
                  "legend": {"orient": "none", "legendX": 75, "legendY": 126.7, "title": " ", "titleFontSize": 10, "titlePadding": 5.55, "padding": 3, "strokeColor": "#a0a0a0", "fillColor": "white", "symbolSize": 50, "symbolStrokeWidth": 1, "symbolOffset": 7.8, "labelOffset": 10.5, "labelFontWeight": "bold", "labelFontSize": 10, "labelColor": "#111111", "rowPadding": 0.85}},
                "stroke": {"field": "s", "type": "nominal", "scale": {"domain": ["Widom-601", "Central dyad", "Major groove", "Minor groove", "Fitting line - Widom 601", "Fitting line - Central dyad", "Fitting line - Major groove", "Fitting line - Minor groove"], "range": ["black", "#333333", "#111111", "#808080", "black", "#8a8a8a", "#333333", "#8a8a8a"]},
                  "legend": {"orient": "none", "legendX": 75, "legendY": 126.7, "title": " ", "titleFontSize": 10, "titlePadding": 5.55, "padding": 3, "strokeColor": "#a0a0a0", "fillColor": "white", "symbolSize": 50, "symbolStrokeWidth": 1, "symbolOffset": 7.8, "labelOffset": 10.5, "labelFontWeight": "bold", "labelFontSize": 10, "labelColor": "#111111", "rowPadding": 0.85}}
              }},
            {"data": {"values": [{}]}, "mark": {"type": "text", "text": "Methylated - 10mM KCl", "align": "left", "baseline": "middle", "fontWeight": "bold", "fontSize": 12.5, "color": "#222222"},
              "encoding": {
                "x": {"datum": -0.2153, "type": "quantitative", "scale": {"domain": [-0.2062, 1.2], "nice": false, "zero": false}, "axis": {"title": "MgCl₂ (mM)", "domain": false, "values": [-0.15, 0, 0.15, 0.3, 0.45, 0.6, 0.75, 0.9, 1.05, 1.2], "labelExpr": "round(datum.value*100) % 30 == 0 ? format(datum.value, '.1f') : ''", "tickSize": {"condition": {"test": "round(datum.value*100) % 30 != 0", "value": 2.5}, "value": 5}, "labelFontSize": 14, "labelPadding": 2.3, "tickWidth": 1.5, "titleFontSize": 18, "titleX": 149.4, "titleY": 48, "titleAlign": "center", "titleBaseline": "alphabetic"}},
                "y": {"datum": 20.49, "type": "quantitative", "scale": {"domain": [0, 21], "nice": false, "zero": false}, "axis": {"title": "D (µm²/s)", "offset": 9.6, "values": [0, 1.5, 3, 4.5, 6, 7.5, 9, 10.5, 12, 13.5, 15, 16.5, 18, 19.5, 21], "labelExpr": "datum.value % 3 == 0 ? format(datum.value, 'd') : ''", "tickSize": {"condition": {"test": "datum.value % 3 != 0", "value": 2.5}, "value": 5}, "labelFontSize": 14, "labelPadding": 5, "domainWidth": 1.5, "tickWidth": 1.5, "titleFontSize": 17, "titleX": -43.4, "titleY": 137.7, "titleAngle": 270, "titleAlign": "center", "titleBaseline": "middle"}}}},
            {"data": {"values": [{}]}, "mark": {"type": "text", "text": "c", "align": "left", "baseline": "alphabetic", "fontWeight": "bold", "fontSize": 23, "color": "black"},
              "encoding": {
                "x": {"datum": -0.4935, "type": "quantitative", "scale": {"domain": [-0.2062, 1.2], "nice": false, "zero": false}, "axis": {"title": "MgCl₂ (mM)", "domain": false, "values": [-0.15, 0, 0.15, 0.3, 0.45, 0.6, 0.75, 0.9, 1.05, 1.2], "labelExpr": "round(datum.value*100) % 30 == 0 ? format(datum.value, '.1f') : ''", "tickSize": {"condition": {"test": "round(datum.value*100) % 30 != 0", "value": 2.5}, "value": 5}, "labelFontSize": 14, "labelPadding": 2.3, "tickWidth": 1.5, "titleFontSize": 18, "titleX": 149.4, "titleY": 48, "titleAlign": "center", "titleBaseline": "alphabetic"}},
                "y": {"datum": 22.28, "type": "quantitative", "scale": {"domain": [0, 21], "nice": false, "zero": false}, "axis": {"title": "D (µm²/s)", "offset": 9.6, "values": [0, 1.5, 3, 4.5, 6, 7.5, 9, 10.5, 12, 13.5, 15, 16.5, 18, 19.5, 21], "labelExpr": "datum.value % 3 == 0 ? format(datum.value, 'd') : ''", "tickSize": {"condition": {"test": "datum.value % 3 != 0", "value": 2.5}, "value": 5}, "labelFontSize": 14, "labelPadding": 5, "domainWidth": 1.5, "tickWidth": 1.5, "titleFontSize": 17, "titleX": -43.4, "titleY": 137.7, "titleAngle": 270, "titleAlign": "center", "titleBaseline": "middle"}}}}
          ]
        }
      ]
    },
    {
      "spacing": -1,
      "resolve": {
        "scale": {"x": "independent", "y": "independent", "shape": "independent", "fill": "independent", "stroke": "independent"},
        "legend": {"shape": "independent", "fill": "independent", "stroke": "independent"}
      },
      "vconcat": [
        {
          "width": 317.6, "height": 258,
          "layer": [
            {"data": {"values": [{}]}, "mark": {"type": "rect", "filled": false, "stroke": "#333333", "strokeWidth": 1},
              "encoding": {
                "x": {"datum": -0.423, "type": "quantitative", "scale": {"domain": [-0.0902, 1.2], "nice": false, "zero": false}, "axis": {"title": "MgCl₂ (mM)", "domain": false, "values": [0, 0.1, 0.2, 0.3, 0.4, 0.5, 0.6, 0.7, 0.8, 0.9, 1.0, 1.1, 1.2], "labelExpr": "round(datum.value*10) % 2 == 0 ? format(datum.value, '.1f') : ''", "tickSize": {"condition": {"test": "round(datum.value*10) % 2 != 0", "value": 3}, "value": 5.5}, "labelFontSize": 13, "labelPadding": 1, "tickWidth": 1.5, "titleFontSize": 16, "titleX": 157.6, "titleY": 44.5, "titleAlign": "center", "titleBaseline": "alphabetic"}},
                "x2": {"datum": 1.3645},
                "y": {"datum": 1.2399, "type": "quantitative", "scale": {"domain": [0.5, 1.2], "nice": false, "zero": false}, "axis": {"title": "N", "offset": 2.4, "values": [0.5, 0.55, 0.6, 0.65, 0.7, 0.75, 0.8, 0.85, 0.9, 0.95, 1.0, 1.05, 1.1, 1.15, 1.2], "labelExpr": "round(datum.value*100) % 10 == 0 ? format(datum.value, '.1f') : ''", "tickSize": {"condition": {"test": "round(datum.value*100) % 10 != 0", "value": 3}, "value": 5.5}, "labelFontSize": 13, "labelPadding": 3.5, "domainWidth": 2, "tickWidth": 1.5, "titleFontSize": 16, "titleX": -45.8, "titleY": 166, "titleAngle": 270, "titleAlign": "center", "titleBaseline": "middle"}},
                "y2": {"datum": 0.3391}}},
            {"data": {"values": [{}]}, "mark": {"type": "rule", "color": "black", "strokeWidth": 2},
              "encoding": {
                "x": {"datum": -0.1, "type": "quantitative", "scale": {"domain": [-0.0902, 1.2], "nice": false, "zero": false}, "axis": {"title": "MgCl₂ (mM)", "domain": false, "values": [0, 0.1, 0.2, 0.3, 0.4, 0.5, 0.6, 0.7, 0.8, 0.9, 1.0, 1.1, 1.2], "labelExpr": "round(datum.value*10) % 2 == 0 ? format(datum.value, '.1f') : ''", "tickSize": {"condition": {"test": "round(datum.value*10) % 2 != 0", "value": 3}, "value": 5.5}, "labelFontSize": 13, "labelPadding": 1, "tickWidth": 1.5, "titleFontSize": 16, "titleX": 157.6, "titleY": 44.5, "titleAlign": "center", "titleBaseline": "alphabetic"}},
                "x2": {"datum": 1.2},
                "y": {"datum": 0.5, "type": "quantitative", "scale": {"domain": [0.5, 1.2], "nice": false, "zero": false}, "axis": {"title": "N", "offset": 2.4, "values": [0.5, 0.55, 0.6, 0.65, 0.7, 0.75, 0.8, 0.85, 0.9, 0.95, 1.0, 1.05, 1.1, 1.15, 1.2], "labelExpr": "round(datum.value*100) % 10 == 0 ? format(datum.value, '.1f') : ''", "tickSize": {"condition": {"test": "round(datum.value*100) % 10 != 0", "value": 3}, "value": 5.5}, "labelFontSize": 13, "labelPadding": 3.5, "domainWidth": 2, "tickWidth": 1.5, "titleFontSize": 16, "titleX": -45.8, "titleY": 166, "titleAngle": 270, "titleAlign": "center", "titleBaseline": "middle"}}}},
            {"data": {"values": [{}]}, "mark": {"type": "rule", "color": "black", "strokeWidth": 2.5, "strokeDash": [9, 7]},
              "encoding": {
                "x": {"datum": -0.09, "type": "quantitative", "scale": {"domain": [-0.0902, 1.2], "nice": false, "zero": false}, "axis": {"title": "MgCl₂ (mM)", "domain": false, "values": [0, 0.1, 0.2, 0.3, 0.4, 0.5, 0.6, 0.7, 0.8, 0.9, 1.0, 1.1, 1.2], "labelExpr": "round(datum.value*10) % 2 == 0 ? format(datum.value, '.1f') : ''", "tickSize": {"condition": {"test": "round(datum.value*10) % 2 != 0", "value": 3}, "value": 5.5}, "labelFontSize": 13, "labelPadding": 1, "tickWidth": 1.5, "titleFontSize": 16, "titleX": 157.6, "titleY": 44.5, "titleAlign": "center", "titleBaseline": "alphabetic"}},
                "x2": {"datum": 1.12},
                "y": {"datum": 1.005, "type": "quantitative", "scale": {"domain": [0.5, 1.2], "nice": false, "zero": false}, "axis": {"title": "N", "offset": 2.4, "values": [0.5, 0.55, 0.6, 0.65, 0.7, 0.75, 0.8, 0.85, 0.9, 0.95, 1.0, 1.05, 1.1, 1.15, 1.2], "labelExpr": "round(datum.value*100) % 10 == 0 ? format(datum.value, '.1f') : ''", "tickSize": {"condition": {"test": "round(datum.value*100) % 10 != 0", "value": 3}, "value": 5.5}, "labelFontSize": 13, "labelPadding": 3.5, "domainWidth": 2, "tickWidth": 1.5, "titleFontSize": 16, "titleX": -45.8, "titleY": 166, "titleAngle": 270, "titleAlign": "center", "titleBaseline": "middle"}}}},
            {"data": {"name": "ptsB"}, "mark": {"type": "errorbar", "ticks": {"size": 6}, "color": "#b3b3b3"},
              "encoding": {
                "x": {"field": "x", "type": "quantitative", "scale": {"domain": [-0.0902, 1.2], "nice": false, "zero": false}, "axis": {"title": "MgCl₂ (mM)", "domain": false, "values": [0, 0.1, 0.2, 0.3, 0.4, 0.5, 0.6, 0.7, 0.8, 0.9, 1.0, 1.1, 1.2], "labelExpr": "round(datum.value*10) % 2 == 0 ? format(datum.value, '.1f') : ''", "tickSize": {"condition": {"test": "round(datum.value*10) % 2 != 0", "value": 3}, "value": 5.5}, "labelFontSize": 13, "labelPadding": 1, "tickWidth": 1.5, "titleFontSize": 16, "titleX": 157.6, "titleY": 44.5, "titleAlign": "center", "titleBaseline": "alphabetic"}},
                "y": {"field": "y", "type": "quantitative", "scale": {"domain": [0.5, 1.2], "nice": false, "zero": false}, "axis": {"title": "N", "offset": 2.4, "values": [0.5, 0.55, 0.6, 0.65, 0.7, 0.75, 0.8, 0.85, 0.9, 0.95, 1.0, 1.05, 1.1, 1.15, 1.2], "labelExpr": "round(datum.value*100) % 10 == 0 ? format(datum.value, '.1f') : ''", "tickSize": {"condition": {"test": "round(datum.value*100) % 10 != 0", "value": 3}, "value": 5.5}, "labelFontSize": 13, "labelPadding": 3.5, "domainWidth": 2, "tickWidth": 1.5, "titleFontSize": 16, "titleX": -45.8, "titleY": 166, "titleAngle": 270, "titleAlign": "center", "titleBaseline": "middle"}},
                "yError": {"field": "e"}}},
            {"data": {"name": "ptsB"}, "mark": {"type": "point", "size": 80, "strokeWidth": 2, "opacity": 1},
              "encoding": {
                "x": {"field": "x", "type": "quantitative", "scale": {"domain": [-0.0902, 1.2], "nice": false, "zero": false}, "axis": {"title": "MgCl₂ (mM)", "domain": false, "values": [0, 0.1, 0.2, 0.3, 0.4, 0.5, 0.6, 0.7, 0.8, 0.9, 1.0, 1.1, 1.2], "labelExpr": "round(datum.value*10) % 2 == 0 ? format(datum.value, '.1f') : ''", "tickSize": {"condition": {"test": "round(datum.value*10) % 2 != 0", "value": 3}, "value": 5.5}, "labelFontSize": 13, "labelPadding": 1, "tickWidth": 1.5, "titleFontSize": 16, "titleX": 157.6, "titleY": 44.5, "titleAlign": "center", "titleBaseline": "alphabetic"}},
                "y": {"field": "y", "type": "quantitative", "scale": {"domain": [0.5, 1.2], "nice": false, "zero": false}, "axis": {"title": "N", "offset": 2.4, "values": [0.5, 0.55, 0.6, 0.65, 0.7, 0.75, 0.8, 0.85, 0.9, 0.95, 1.0, 1.05, 1.1, 1.15, 1.2], "labelExpr": "round(datum.value*100) % 10 == 0 ? format(datum.value, '.1f') : ''", "tickSize": {"condition": {"test": "round(datum.value*100) % 10 != 0", "value": 3}, "value": 5.5}, "labelFontSize": 13, "labelPadding": 3.5, "domainWidth": 2, "tickWidth": 1.5, "titleFontSize": 16, "titleX": -45.8, "titleY": 166, "titleAngle": 270, "titleAlign": "center", "titleBaseline": "middle"}},
                "shape": {"field": "s", "type": "nominal", "scale": {"domain": ["Widom-601", "Central Dyad", "Major Groove", "Minor Groove"], "range": ["square", "circle", "triangle-up", "triangle-down"]},
                  "legend": {"orient": "none", "legendX": 16.1, "legendY": 105, "title": null, "padding": 3.5, "strokeColor": "#999999", "fillColor": "white", "symbolSize": 80, "symbolStrokeWidth": 2, "symbolOffset": 17, "labelOffset": 14.2, "labelFontWeight": "normal", "labelFontSize": 14, "labelColor": "#222222", "rowPadding": 1.3}},
                "fill": {"field": "s", "type": "nominal", "scale": {"domain": ["Widom-601", "Central Dyad", "Major Groove", "Minor Groove"], "range": ["black", "transparent", "transparent", "transparent"]},
                  "legend": {"orient": "none", "legendX": 16.1, "legendY": 105, "title": null, "padding": 3.5, "strokeColor": "#999999", "fillColor": "white", "symbolSize": 80, "symbolStrokeWidth": 2, "symbolOffset": 17, "labelOffset": 14.2, "labelFontWeight": "normal", "labelFontSize": 14, "labelColor": "#222222", "rowPadding": 1.3}},
                "stroke": {"field": "s", "type": "nominal", "scale": {"domain": ["Widom-601", "Central Dyad", "Major Groove", "Minor Groove"], "range": ["black", "#666666", "#1a1a1a", "#808080"]},
                  "legend": {"orient": "none", "legendX": 16.1, "legendY": 105, "title": null, "padding": 3.5, "strokeColor": "#999999", "fillColor": "white", "symbolSize": 80, "symbolStrokeWidth": 2, "symbolOffset": 17, "labelOffset": 14.2, "labelFontWeight": "normal", "labelFontSize": 14, "labelColor": "#222222", "rowPadding": 1.3}}
              }},
            {"data": {"values": [{}]}, "mark": {"type": "text", "text": "Unmethylated 10mM KCl", "align": "left", "baseline": "middle", "fontWeight": "bold", "fontSize": 16, "color": "#111111"},
              "encoding": {
                "x": {"datum": 0.0333, "type": "quantitative", "scale": {"domain": [-0.0902, 1.2], "nice": false, "zero": false}, "axis": {"title": "MgCl₂ (mM)", "domain": false, "values": [0, 0.1, 0.2, 0.3, 0.4, 0.5, 0.6, 0.7, 0.8, 0.9, 1.0, 1.1, 1.2], "labelExpr": "round(datum.value*10) % 2 == 0 ? format(datum.value, '.1f') : ''", "tickSize": {"condition": {"test": "round(datum.value*10) % 2 != 0", "value": 3}, "value": 5.5}, "labelFontSize": 13, "labelPadding": 1, "tickWidth": 1.5, "titleFontSize": 16, "titleX": 157.6, "titleY": 44.5, "titleAlign": "center", "titleBaseline": "alphabetic"}},
                "y": {"datum": 0.6411, "type": "quantitative", "scale": {"domain": [0.5, 1.2], "nice": false, "zero": false}, "axis": {"title": "N", "offset": 2.4, "values": [0.5, 0.55, 0.6, 0.65, 0.7, 0.75, 0.8, 0.85, 0.9, 0.95, 1.0, 1.05, 1.1, 1.15, 1.2], "labelExpr": "round(datum.value*100) % 10 == 0 ? format(datum.value, '.1f') : ''", "tickSize": {"condition": {"test": "round(datum.value*100) % 10 != 0", "value": 3}, "value": 5.5}, "labelFontSize": 13, "labelPadding": 3.5, "domainWidth": 2, "tickWidth": 1.5, "titleFontSize": 16, "titleX": -45.8, "titleY": 166, "titleAngle": 270, "titleAlign": "center", "titleBaseline": "middle"}}}},
            {"data": {"values": [{}]}, "mark": {"type": "text", "text": "b", "align": "left", "baseline": "alphabetic", "fontWeight": "bold", "fontSize": 23, "color": "black"},
              "encoding": {
                "x": {"datum": -0.3498, "type": "quantitative", "scale": {"domain": [-0.0902, 1.2], "nice": false, "zero": false}, "axis": {"title": "MgCl₂ (mM)", "domain": false, "values": [0, 0.1, 0.2, 0.3, 0.4, 0.5, 0.6, 0.7, 0.8, 0.9, 1.0, 1.1, 1.2], "labelExpr": "round(datum.value*10) % 2 == 0 ? format(datum.value, '.1f') : ''", "tickSize": {"condition": {"test": "round(datum.value*10) % 2 != 0", "value": 3}, "value": 5.5}, "labelFontSize": 13, "labelPadding": 1, "tickWidth": 1.5, "titleFontSize": 16, "titleX": 157.6, "titleY": 44.5, "titleAlign": "center", "titleBaseline": "alphabetic"}},
                "y": {"datum": 1.1702, "type": "quantitative", "scale": {"domain": [0.5, 1.2], "nice": false, "zero": false}, "axis": {"title": "N", "offset": 2.4, "values": [0.5, 0.55, 0.6, 0.65, 0.7, 0.75, 0.8, 0.85, 0.9, 0.95, 1.0, 1.05, 1.1, 1.15, 1.2], "labelExpr": "round(datum.value*100) % 10 == 0 ? format(datum.value, '.1f') : ''", "tickSize": {"condition": {"test": "round(datum.value*100) % 10 != 0", "value": 3}, "value": 5.5}, "labelFontSize": 13, "labelPadding": 3.5, "domainWidth": 2, "tickWidth": 1.5, "titleFontSize": 16, "titleX": -45.8, "titleY": 166, "titleAngle": 270, "titleAlign": "center", "titleBaseline": "middle"}}}},
            {"data": {"values": [{}]}, "mark": {"type": "text", "text": "normalized", "align": "center", "baseline": "middle", "angle": 270, "fontWeight": "bold", "fontSize": 9.5, "color": "black"},
              "encoding": {
                "x": {"datum": -0.2552, "type": "quantitative", "scale": {"domain": [-0.0902, 1.2], "nice": false, "zero": false}, "axis": {"title": "MgCl₂ (mM)", "domain": false, "values": [0, 0.1, 0.2, 0.3, 0.4, 0.5, 0.6, 0.7, 0.8, 0.9, 1.0, 1.1, 1.2], "labelExpr": "round(datum.value*10) % 2 == 0 ? format(datum.value, '.1f') : ''", "tickSize": {"condition": {"test": "round(datum.value*10) % 2 != 0", "value": 3}, "value": 5.5}, "labelFontSize": 13, "labelPadding": 1, "tickWidth": 1.5, "titleFontSize": 16, "titleX": 157.6, "titleY": 44.5, "titleAlign": "center", "titleBaseline": "alphabetic"}},
                "y": {"datum": 0.8335, "type": "quantitative", "scale": {"domain": [0.5, 1.2], "nice": false, "zero": false}, "axis": {"title": "N", "offset": 2.4, "values": [0.5, 0.55, 0.6, 0.65, 0.7, 0.75, 0.8, 0.85, 0.9, 0.95, 1.0, 1.05, 1.1, 1.15, 1.2], "labelExpr": "round(datum.value*100) % 10 == 0 ? format(datum.value, '.1f') : ''", "tickSize": {"condition": {"test": "round(datum.value*100) % 10 != 0", "value": 3}, "value": 5.5}, "labelFontSize": 13, "labelPadding": 3.5, "domainWidth": 2, "tickWidth": 1.5, "titleFontSize": 16, "titleX": -45.8, "titleY": 166, "titleAngle": 270, "titleAlign": "center", "titleBaseline": "middle"}}}}
          ]
        },
        {
          "width": 326, "height": 261,
          "layer": [
            {"data": {"values": [{}]}, "mark": {"type": "rect", "filled": false, "stroke": "#333333", "strokeWidth": 1},
              "encoding": {
                "x": {"datum": -0.4266, "type": "quantitative", "scale": {"domain": [-0.1, 1.2], "nice": false, "zero": false}, "axis": {"title": "MgCl₂ (mM)", "values": [0, 0.1, 0.2, 0.3, 0.4, 0.5, 0.6, 0.7, 0.8, 0.9, 1.0, 1.1, 1.2], "labelExpr": "round(datum.value*10) % 2 == 0 ? format(datum.value, '.1f') : ''", "tickSize": {"condition": {"test": "round(datum.value*10) % 2 != 0", "value": 3}, "value": 5.5}, "labelFontSize": 13, "labelPadding": 2.85, "domainWidth": 2, "tickWidth": 1.5, "titleFontSize": 16, "titleX": 163, "titleY": 47.5, "titleAlign": "center", "titleBaseline": "alphabetic"}},
                "x2": {"datum": 1.328},
                "y": {"datum": 1.2858, "type": "quantitative", "scale": {"domain": [0.5, 1.2], "nice": false, "zero": false}, "axis": {"title": "N", "values": [0.5, 0.55, 0.6, 0.65, 0.7, 0.75, 0.8, 0.85, 0.9, 0.95, 1.0, 1.05, 1.1, 1.15, 1.2], "labelExpr": "round(datum.value*100) % 10 == 0 ? format(datum.value, '.1f') : ''", "tickSize": {"condition": {"test": "round(datum.value*100) % 10 != 0", "value": 3}, "value": 5.5}, "labelFontSize": 13, "labelPadding": 3, "domainWidth": 2, "tickWidth": 1.5, "titleFontSize": 16, "titleX": -48.2, "titleY": 170.2, "titleAngle": 270, "titleAlign": "center", "titleBaseline": "middle"}},
                "y2": {"datum": 0.3203}}},
            {"data": {"values": [{}]}, "mark": {"type": "rule", "color": "black", "strokeWidth": 2.5, "strokeDash": [9, 7]},
              "encoding": {
                "x": {"datum": -0.09, "type": "quantitative", "scale": {"domain": [-0.1, 1.2], "nice": false, "zero": false}, "axis": {"title": "MgCl₂ (mM)", "values": [0, 0.1, 0.2, 0.3, 0.4, 0.5, 0.6, 0.7, 0.8, 0.9, 1.0, 1.1, 1.2], "labelExpr": "round(datum.value*10) % 2 == 0 ? format(datum.value, '.1f') : ''", "tickSize": {"condition": {"test": "round(datum.value*10) % 2 != 0", "value": 3}, "value": 5.5}, "labelFontSize": 13, "labelPadding": 2.85, "domainWidth": 2, "tickWidth": 1.5, "titleFontSize": 16, "titleX": 163, "titleY": 47.5, "titleAlign": "center", "titleBaseline": "alphabetic"}},
                "x2": {"datum": 1.105},
                "y": {"datum": 1.0, "type": "quantitative", "scale": {"domain": [0.5, 1.2], "nice": false, "zero": false}, "axis": {"title": "N", "values": [0.5, 0.55, 0.6, 0.65, 0.7, 0.75, 0.8, 0.85, 0.9, 0.95, 1.0, 1.05, 1.1, 1.15, 1.2], "labelExpr": "round(datum.value*100) % 10 == 0 ? format(datum.value, '.1f') : ''", "tickSize": {"condition": {"test": "round(datum.value*100) % 10 != 0", "value": 3}, "value": 5.5}, "labelFontSize": 13, "labelPadding": 3, "domainWidth": 2, "tickWidth": 1.5, "titleFontSize": 16, "titleX": -48.2, "titleY": 170.2, "titleAngle": 270, "titleAlign": "center", "titleBaseline": "middle"}}}},
            {"data": {"name": "ptsD"}, "mark": {"type": "errorbar", "ticks": {"size": 6}, "color": "#b3b3b3"},
              "encoding": {
                "x": {"field": "x", "type": "quantitative", "scale": {"domain": [-0.1, 1.2], "nice": false, "zero": false}, "axis": {"title": "MgCl₂ (mM)", "values": [0, 0.1, 0.2, 0.3, 0.4, 0.5, 0.6, 0.7, 0.8, 0.9, 1.0, 1.1, 1.2], "labelExpr": "round(datum.value*10) % 2 == 0 ? format(datum.value, '.1f') : ''", "tickSize": {"condition": {"test": "round(datum.value*10) % 2 != 0", "value": 3}, "value": 5.5}, "labelFontSize": 13, "labelPadding": 2.85, "domainWidth": 2, "tickWidth": 1.5, "titleFontSize": 16, "titleX": 163, "titleY": 47.5, "titleAlign": "center", "titleBaseline": "alphabetic"}},
                "y": {"field": "y", "type": "quantitative", "scale": {"domain": [0.5, 1.2], "nice": false, "zero": false}, "axis": {"title": "N", "values": [0.5, 0.55, 0.6, 0.65, 0.7, 0.75, 0.8, 0.85, 0.9, 0.95, 1.0, 1.05, 1.1, 1.15, 1.2], "labelExpr": "round(datum.value*100) % 10 == 0 ? format(datum.value, '.1f') : ''", "tickSize": {"condition": {"test": "round(datum.value*100) % 10 != 0", "value": 3}, "value": 5.5}, "labelFontSize": 13, "labelPadding": 3, "domainWidth": 2, "tickWidth": 1.5, "titleFontSize": 16, "titleX": -48.2, "titleY": 170.2, "titleAngle": 270, "titleAlign": "center", "titleBaseline": "middle"}},
                "yError": {"field": "e"}}},
            {"data": {"name": "ptsD"}, "mark": {"type": "point", "size": 80, "strokeWidth": 2, "opacity": 1},
              "encoding": {
                "x": {"field": "x", "type": "quantitative", "scale": {"domain": [-0.1, 1.2], "nice": false, "zero": false}, "axis": {"title": "MgCl₂ (mM)", "values": [0, 0.1, 0.2, 0.3, 0.4, 0.5, 0.6, 0.7, 0.8, 0.9, 1.0, 1.1, 1.2], "labelExpr": "round(datum.value*10) % 2 == 0 ? format(datum.value, '.1f') : ''", "tickSize": {"condition": {"test": "round(datum.value*10) % 2 != 0", "value": 3}, "value": 5.5}, "labelFontSize": 13, "labelPadding": 2.85, "domainWidth": 2, "tickWidth": 1.5, "titleFontSize": 16, "titleX": 163, "titleY": 47.5, "titleAlign": "center", "titleBaseline": "alphabetic"}},
                "y": {"field": "y", "type": "quantitative", "scale": {"domain": [0.5, 1.2], "nice": false, "zero": false}, "axis": {"title": "N", "values": [0.5, 0.55, 0.6, 0.65, 0.7, 0.75, 0.8, 0.85, 0.9, 0.95, 1.0, 1.05, 1.1, 1.15, 1.2], "labelExpr": "round(datum.value*100) % 10 == 0 ? format(datum.value, '.1f') : ''", "tickSize": {"condition": {"test": "round(datum.value*100) % 10 != 0", "value": 3}, "value": 5.5}, "labelFontSize": 13, "labelPadding": 3, "domainWidth": 2, "tickWidth": 1.5, "titleFontSize": 16, "titleX": -48.2, "titleY": 170.2, "titleAngle": 270, "titleAlign": "center", "titleBaseline": "middle"}},
                "shape": {"field": "s", "type": "nominal", "scale": {"domain": ["Widom-601", "Central Dyad", "Major Groove", "Minor Groove"], "range": ["square", "circle", "triangle-up", "triangle-down"]},
                  "legend": {"orient": "none", "legendX": 19.4, "legendY": 101, "title": null, "padding": 3.35, "strokeColor": "#999999", "fillColor": "white", "symbolSize": 80, "symbolStrokeWidth": 2, "symbolOffset": 14.55, "labelOffset": 17.8, "labelFontWeight": "normal", "labelFontSize": 14.5, "labelColor": "#222222", "rowPadding": 0.9}},
                "fill": {"field": "s", "type": "nominal", "scale": {"domain": ["Widom-601", "Central Dyad", "Major Groove", "Minor Groove"], "range": ["black", "transparent", "transparent", "transparent"]},
                  "legend": {"orient": "none", "legendX": 19.4, "legendY": 101, "title": null, "padding": 3.35, "strokeColor": "#999999", "fillColor": "white", "symbolSize": 80, "symbolStrokeWidth": 2, "symbolOffset": 14.55, "labelOffset": 17.8, "labelFontWeight": "normal", "labelFontSize": 14.5, "labelColor": "#222222", "rowPadding": 0.9}},
                "stroke": {"field": "s", "type": "nominal", "scale": {"domain": ["Widom-601", "Central Dyad", "Major Groove", "Minor Groove"], "range": ["black", "#666666", "#1a1a1a", "#808080"]},
                  "legend": {"orient": "none", "legendX": 19.4, "legendY": 101, "title": null, "padding": 3.35, "strokeColor": "#999999", "fillColor": "white", "symbolSize": 80, "symbolStrokeWidth": 2, "symbolOffset": 14.55, "labelOffset": 17.8, "labelFontWeight": "normal", "labelFontSize": 14.5, "labelColor": "#222222", "rowPadding": 0.9}}
              }},
            {"data": {"values": [{}]}, "mark": {"type": "text", "text": "Methylated 10mM KCl", "align": "left", "baseline": "middle", "fontWeight": "bold", "fontSize": 16, "color": "#111111"},
              "encoding": {
                "x": {"datum": 0.0, "type": "quantitative", "scale": {"domain": [-0.1, 1.2], "nice": false, "zero": false}, "axis": {"title": "MgCl₂ (mM)", "values": [0, 0.1, 0.2, 0.3, 0.4, 0.5, 0.6, 0.7, 0.8, 0.9, 1.0, 1.1, 1.2], "labelExpr": "round(datum.value*10) % 2 == 0 ? format(datum.value, '.1f') : ''", "tickSize": {"condition": {"test": "round(datum.value*10) % 2 != 0", "value": 3}, "value": 5.5}, "labelFontSize": 13, "labelPadding": 2.85, "domainWidth": 2, "tickWidth": 1.5, "titleFontSize": 16, "titleX": 163, "titleY": 47.5, "titleAlign": "center", "titleBaseline": "alphabetic"}},
                "y": {"datum": 0.643, "type": "quantitative", "scale": {"domain": [0.5, 1.2], "nice": false, "zero": false}, "axis": {"title": "N", "values": [0.5, 0.55, 0.6, 0.65, 0.7, 0.75, 0.8, 0.85, 0.9, 0.95, 1.0, 1.05, 1.1, 1.15, 1.2], "labelExpr": "round(datum.value*100) % 10 == 0 ? format(datum.value, '.1f') : ''", "tickSize": {"condition": {"test": "round(datum.value*100) % 10 != 0", "value": 3}, "value": 5.5}, "labelFontSize": 13, "labelPadding": 3, "domainWidth": 2, "tickWidth": 1.5, "titleFontSize": 16, "titleX": -48.2, "titleY": 170.2, "titleAngle": 270, "titleAlign": "center", "titleBaseline": "middle"}}}},
            {"data": {"values": [{}]}, "mark": {"type": "text", "text": "d", "align": "left", "baseline": "alphabetic", "fontWeight": "bold", "fontSize": 23, "color": "black"},
              "encoding": {
                "x": {"datum": -0.3588, "type": "quantitative", "scale": {"domain": [-0.1, 1.2], "nice": false, "zero": false}, "axis": {"title": "MgCl₂ (mM)", "values": [0, 0.1, 0.2, 0.3, 0.4, 0.5, 0.6, 0.7, 0.8, 0.9, 1.0, 1.1, 1.2], "labelExpr": "round(datum.value*10) % 2 == 0 ? format(datum.value, '.1f') : ''", "tickSize": {"condition": {"test": "round(datum.value*10) % 2 != 0", "value": 3}, "value": 5.5}, "labelFontSize": 13, "labelPadding": 2.85, "domainWidth": 2, "tickWidth": 1.5, "titleFontSize": 16, "titleX": 163, "titleY": 47.5, "titleAlign": "center", "titleBaseline": "alphabetic"}},
                "y": {"datum": 1.2089, "type": "quantitative", "scale": {"domain": [0.5, 1.2], "nice": false, "zero": false}, "axis": {"title": "N", "values": [0.5, 0.55, 0.6, 0.65, 0.7, 0.75, 0.8, 0.85, 0.9, 0.95, 1.0, 1.05, 1.1, 1.15, 1.2], "labelExpr": "round(datum.value*100) % 10 == 0 ? format(datum.value, '.1f') : ''", "tickSize": {"condition": {"test": "round(datum.value*100) % 10 != 0", "value": 3}, "value": 5.5}, "labelFontSize": 13, "labelPadding": 3, "domainWidth": 2, "tickWidth": 1.5, "titleFontSize": 16, "titleX": -48.2, "titleY": 170.2, "titleAngle": 270, "titleAlign": "center", "titleBaseline": "middle"}}}},
            {"data": {"values": [{}]}, "mark": {"type": "text", "text": "normalized", "align": "center", "baseline": "middle", "angle": 270, "fontWeight": "bold", "fontSize": 9.5, "color": "black"},
              "encoding": {
                "x": {"datum": -0.2551, "type": "quantitative", "scale": {"domain": [-0.1, 1.2], "nice": false, "zero": false}, "axis": {"title": "MgCl₂ (mM)", "values": [0, 0.1, 0.2, 0.3, 0.4, 0.5, 0.6, 0.7, 0.8, 0.9, 1.0, 1.1, 1.2], "labelExpr": "round(datum.value*10) % 2 == 0 ? format(datum.value, '.1f') : ''", "tickSize": {"condition": {"test": "round(datum.value*10) % 2 != 0", "value": 3}, "value": 5.5}, "labelFontSize": 13, "labelPadding": 2.85, "domainWidth": 2, "tickWidth": 1.5, "titleFontSize": 16, "titleX": 163, "titleY": 47.5, "titleAlign": "center", "titleBaseline": "alphabetic"}},
                "y": {"datum": 0.8398, "type": "quantitative", "scale": {"domain": [0.5, 1.2], "nice": false, "zero": false}, "axis": {"title": "N", "values": [0.5, 0.55, 0.6, 0.65, 0.7, 0.75, 0.8, 0.85, 0.9, 0.95, 1.0, 1.05, 1.1, 1.15, 1.2], "labelExpr": "round(datum.value*100) % 10 == 0 ? format(datum.value, '.1f') : ''", "tickSize": {"condition": {"test": "round(datum.value*100) % 10 != 0", "value": 3}, "value": 5.5}, "labelFontSize": 13, "labelPadding": 3, "domainWidth": 2, "tickWidth": 1.5, "titleFontSize": 16, "titleX": -48.2, "titleY": 170.2, "titleAngle": 270, "titleAlign": "center", "titleBaseline": "middle"}}}}
          ]
        }
      ]
    }
  ]
}
